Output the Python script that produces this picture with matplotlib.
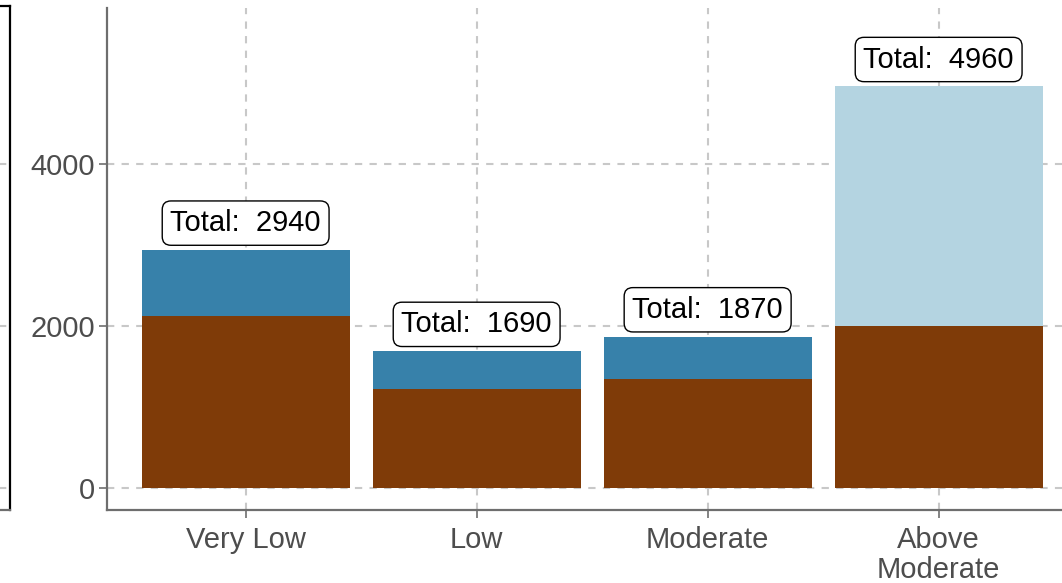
import numpy as np
import matplotlib.pyplot as plt

# данные
categories = ['Very Low', 'Low', 'Moderate', 'Above\nModerate']
totals = [2940, 1690, 1870, 4960]
base_vals = [2120, 1220, 1350, 2000]          # нижняя (коричневая) часть
top_colors = ['#3781aa', '#3781aa', '#3781aa', '#b4d4e1']
base_color = '#7f3b08'

plt.rcParams['font.family'] = ['Liberation Sans', 'DejaVu Sans']

fig = plt.figure(figsize=(10.62, 5.83), dpi=100)

ylim = (-272, 5926)
grid_kw = dict(color='#c8c8c8', linestyle=(0, (3.5, 3.5)), linewidth=1.5)

# обрезанная соседняя панель слева
ax0 = fig.add_axes([-0.3, 0.1252, 0.3094, 0.8645])
ax0.set_ylim(-272, 5950)
ax0.set_xlim(0, 1)
ax0.set_yticks([0, 2000, 4000])
ax0.set_xticks([])
ax0.tick_params(left=False, labelleft=False)
ax0.grid(axis='y', **grid_kw)
for s in ax0.spines.values():
    s.set_color('black')
    s.set_linewidth(1.6)
ax0.spines['bottom'].set_color('#6e6e6e')

# основная панель
ax = fig.add_axes([0.1008, 0.1252, 0.8992, 0.8611])
x = np.arange(len(categories))
top_vals = [t - b for t, b in zip(totals, base_vals)]

ax.bar(x, base_vals, width=0.9, color=base_color, zorder=2)
ax.bar(x, top_vals, bottom=base_vals, width=0.9, color=top_colors, zorder=2)

for xi, t in zip(x, totals):
    ax.text(xi, t + 330, f'Total:  {t}', ha='center', va='center', fontsize=21,
            color='black', zorder=4,
            bbox=dict(boxstyle='round,pad=0.28,rounding_size=0.3', fc='white',
                      ec='black', lw=1.0))

ax.set_xlim(-0.6, 3.534)
ax.set_ylim(*ylim)
ax.set_xticks(x)
ax.set_xticklabels(categories, linespacing=1.1)
ax.set_yticks([0, 2000, 4000])
ax.grid(True, zorder=0, **grid_kw)
ax.set_axisbelow(True)

for side in ['top', 'right']:
    ax.spines[side].set_visible(False)
for side in ['left', 'bottom']:
    ax.spines[side].set_color('#6e6e6e')
    ax.spines[side].set_linewidth(1.6)

ax.tick_params(axis='both', length=5.5, width=1.2, color='#6e6e6e',
               labelcolor='#4d4d4d', labelsize=21, pad=3)
ax.tick_params(axis='x', pad=6)

fig.savefig('out.png', dpi=100)
